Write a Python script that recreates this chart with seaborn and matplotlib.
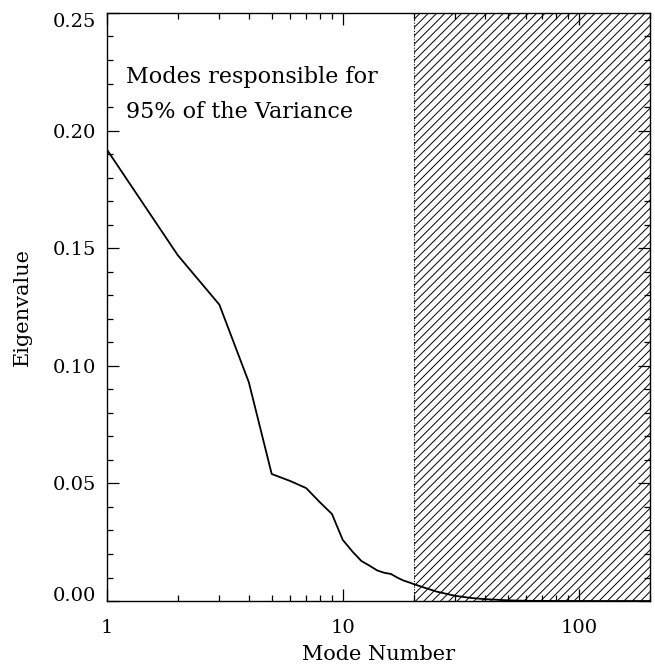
import matplotlib
matplotlib.use("Agg")
import matplotlib.pyplot as plt
import matplotlib.ticker as mticker
import seaborn as sns
import pandas as pd

# Eigenvalue spectrum of the decomposition
mode_number = [1, 2, 3, 4, 5, 6, 7, 8, 9, 10, 11, 12, 13, 14, 15, 16, 17, 18,
               19, 20, 22, 25, 30, 35, 40, 50, 60, 80, 100, 150, 200]
eigenvalue = [0.192, 0.147, 0.126, 0.093, 0.054, 0.051, 0.048, 0.042, 0.037,
              0.026, 0.021, 0.017, 0.015, 0.013, 0.012, 0.0115, 0.010, 0.0088,
              0.0080, 0.0072, 0.0058, 0.0040, 0.0022, 0.0013, 0.0008, 0.0003,
              0.0001, 0.00003, 0.00001, 0.0, 0.0]

# Number of modes needed to reach 95% of the variance
cutoff_mode = 20
x_range = [1, 200]
y_range = [0.0, 0.25]
x_tick_values = [1, 10, 100]
x_tick_labels = ["1", "10", "100"]
y_tick_values = [0.00, 0.05, 0.10, 0.15, 0.20, 0.25]
y_tick_labels = ["0.00", "0.05", "0.10", "0.15", "0.20", "0.25"]
annotation_lines = ["Modes responsible for", "95% of the Variance"]

sns.set_style("ticks")
plt.rcParams["font.family"] = ["DejaVu Serif"]
plt.rcParams["hatch.linewidth"] = 0.7
plt.rcParams["hatch.color"] = "black"
plt.rcParams["text.color"] = "black"
plt.rcParams["axes.labelcolor"] = "black"
plt.rcParams["xtick.color"] = "black"
plt.rcParams["ytick.color"] = "black"

df = pd.DataFrame({"mode": mode_number, "eig": eigenvalue})

fig = plt.figure(figsize=(6.55, 6.65), dpi=100)
ax = fig.add_axes([0.163, 0.0962, 0.829, 0.8843])

ax.set_xscale("log")
sns.lineplot(data=df, x="mode", y="eig", color="black", linewidth=1.3, ax=ax)

# Hatched region for modes beyond the cutoff
ax.axvspan(cutoff_mode, x_range[1], facecolor="none", edgecolor="black",
           hatch="////", linewidth=0)
ax.axvline(cutoff_mode, color="black", linestyle=(0, (1, 1.5)), linewidth=0.8)

ax.set_xlim(*x_range)
ax.set_ylim(*y_range)

ax.set_xticks(x_tick_values)
ax.set_xticklabels(x_tick_labels)
ax.xaxis.set_minor_locator(mticker.LogLocator(base=10, subs=range(2, 10)))
ax.xaxis.set_minor_formatter(mticker.NullFormatter())
ax.set_yticks(y_tick_values)
ax.set_yticklabels(y_tick_labels)
ax.yaxis.set_minor_locator(mticker.MultipleLocator(0.01))

ax.tick_params(which="both", direction="in", top=True, right=True,
               color="black", width=0.9)
ax.tick_params(which="major", length=8.6, labelsize=14)
ax.tick_params(axis="x", which="major", pad=13)
ax.tick_params(axis="y", which="major", pad=8)
ax.tick_params(which="minor", length=4.3)

# End labels stay inside the frame's vertical extent
ylabels = ax.get_yticklabels()
ylabels[0].set_verticalalignment("baseline")
ylabels[-1].set_verticalalignment("top")

for s in ax.spines.values():
    s.set_linewidth(1.0)
    s.set_color("black")

ax.set_xlabel("Mode Number", fontsize=15, labelpad=6)
ax.set_ylabel("Eigenvalue", fontsize=15, labelpad=15)

ax.text(1.21, 0.2202, annotation_lines[0], fontsize=16, va="baseline",
        ha="left")
ax.text(1.21, 0.2054, annotation_lines[1], fontsize=16, va="baseline",
        ha="left")

fig.savefig("out.png", dpi=100, facecolor="white")
